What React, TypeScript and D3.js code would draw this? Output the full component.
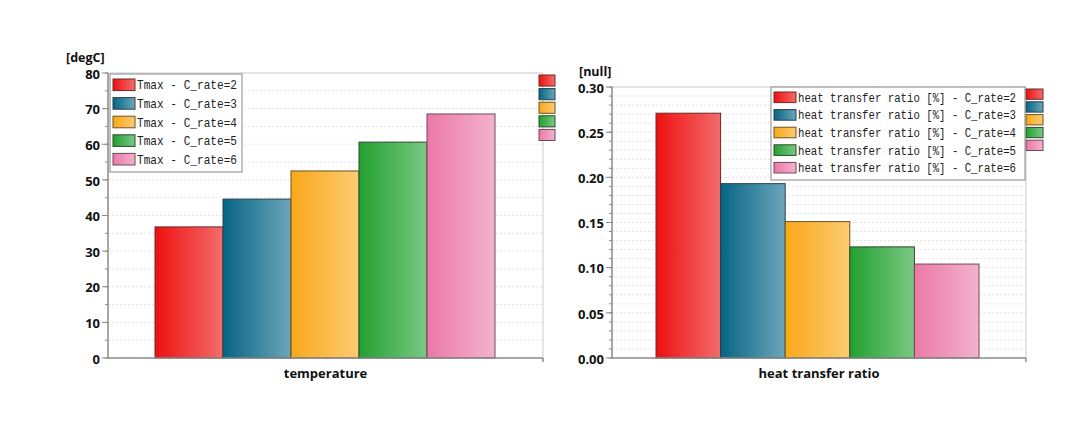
import React from 'react';
import * as d3 from 'd3';

const seriesCRate = ['2', '3', '4', '5', '6'];
const tempValues = [36.8, 44.6, 52.5, 60.6, 68.5];
const htrValues = [0.271, 0.193, 0.151, 0.123, 0.104];
const tempTicks = [0, 10, 20, 30, 40, 50, 60, 70, 80];
const htrTicks = [0, 0.05, 0.1, 0.15, 0.2, 0.25, 0.3];
const colorStart = ['#ee1010', '#066585', '#f9a81a', '#22a030', '#ec79a8'];
const colorEnd = ['#f46c6c', '#6ca6ba', '#fdcb72', '#7ac984', '#f3b2cc'];
const strokeCol = ['#6b2a2a', '#26404c', '#6b5422', '#2c4a2e', '#6b4a58'];

const tickFont = '"Open Sans", "DejaVu Sans", sans-serif';
const monoFont = '"Liberation Mono", "DejaVu Sans Mono", monospace';

type ChartProps = {
  id: string;
  left: number; right: number; top: number; bottom: number;
  barLeft: number; barRight: number;
  domainMax: number;
  ticks: number[];
  minorStep: number;
  fmt: (v: number) => string;
  values: number[];
  unit: string; unitX: number; unitY: number;
  xLabel: string;
  legendPrefix: string;
  legendX: number; legendY: number; legendW: number; legendRowH: number;
  legendFont: number; legendTextW: number;
  sqX: number; sqY: number; sqStep: number; sqW: number;
};

function BarChart(p: ChartProps) {
  const y = d3.scaleLinear().domain([0, p.domainMax]).range([p.bottom, p.top]);
  const x = d3.scaleBand<string>().domain(seriesCRate).range([p.barLeft, p.barRight]).padding(0);
  const minorTicks = d3.range(0, p.domainMax + p.minorStep / 2, p.minorStep);
  return (
    <g>
      <defs>
        {seriesCRate.map((c, i) => (
          <linearGradient key={c} id={`${p.id}-g${i}`} x1="0" x2="1" y1="0" y2="0">
            <stop offset="0" stopColor={colorStart[i]} />
            <stop offset="1" stopColor={colorEnd[i]} />
          </linearGradient>
        ))}
      </defs>
      {minorTicks.map((t, i) => (
        <line key={'g' + i} x1={p.left} x2={p.right} y1={y(t)} y2={y(t)}
          stroke="#e2e2e2" strokeWidth={1} strokeDasharray="2,2" />
      ))}
      <line x1={p.left} x2={p.right} y1={p.top} y2={p.top} stroke="#dcdcdc" strokeWidth={1.5} />
      <line x1={p.right} x2={p.right} y1={p.top} y2={p.bottom} stroke="#dcdcdc" strokeWidth={1.5} />
      {seriesCRate.map((c, i) => (
        <rect key={c} x={x(c)} y={y(p.values[i])} width={x.bandwidth()}
          height={p.bottom - y(p.values[i])} fill={`url(#${p.id}-g${i})`}
          stroke={strokeCol[i]} strokeWidth={1} />
      ))}
      <line x1={p.left} x2={p.left} y1={p.top} y2={p.bottom} stroke="#8a8a8a" strokeWidth={1.5} />
      {minorTicks.map((t, i) => (
        <line key={'m' + i} x1={p.left - 3} x2={p.left} y1={y(t)} y2={y(t)} stroke="#8a8a8a" />
      ))}
      {p.ticks.map((t, i) => (
        <g key={'t' + i}>
          <line x1={p.left - 6} x2={p.left} y1={y(t)} y2={y(t)} stroke="#8a8a8a" />
          <text x={p.left - 8} y={y(t) + 1} dy="0.36em" textAnchor="end" fontFamily={tickFont}
            fontWeight="bold" fontSize={13} fill="#111">{p.fmt(t)}</text>
        </g>
      ))}
      <line x1={p.left} x2={p.right} y1={p.bottom} y2={p.bottom} stroke="#8a8a8a" strokeWidth={1.5} />
      <line x1={p.right} x2={p.right} y1={p.bottom} y2={p.bottom + 4} stroke="#8a8a8a" strokeWidth={1.5} />
      <text x={(p.left + p.right) / 2} y={p.bottom + 20} textAnchor="middle" fontFamily={tickFont}
        fontWeight="bold" fontSize={13} fill="#111">{p.xLabel}</text>
      <text x={p.unitX} y={p.unitY} fontFamily={tickFont} fontWeight="bold" fontSize={12.5} fill="#111">{p.unit}</text>
      {seriesCRate.map((c, i) => (
        <rect key={'sq' + c} x={p.sqX} y={p.sqY + i * p.sqStep} width={p.sqW} height={p.sqStep - 2.5}
          fill={`url(#${p.id}-g${i})`} stroke={strokeCol[i]} strokeWidth={1} />
      ))}
      <rect x={p.legendX} y={p.legendY} width={p.legendW} height={p.legendRowH * 5 + 5}
        fill="#fff" stroke="#9a9a9a" strokeWidth={1.2} />
      {seriesCRate.map((c, i) => (
        <g key={'l' + c}>
          <rect x={p.legendX + 3} y={p.legendY + 5 + i * p.legendRowH} width={22} height={p.legendRowH - 7}
            fill={`url(#${p.id}-g${i})`} stroke={strokeCol[i]} strokeWidth={1} />
          <text x={p.legendX + 27} y={p.legendY + 5 + i * p.legendRowH + (p.legendRowH - 7) / 2}
            dy="0.36em" fontFamily={monoFont} fontSize={p.legendFont} fill="#222"
            textLength={p.legendTextW} lengthAdjust="spacingAndGlyphs">
            {`${p.legendPrefix} - C_rate=${c}`}
          </text>
        </g>
      ))}
    </g>
  );
}

export default function App() {
  return (
    <svg width={1080} height={422} style={{ position: 'absolute', left: 0, top: 0, background: '#fff' }}>
      <BarChart id="t" left={108} right={543} top={73} bottom={358}
        barLeft={155} barRight={495} domainMax={80} ticks={tempTicks} minorStep={5}
        fmt={(v) => String(v)} values={tempValues}
        unit="[degC]" unitX={66} unitY={62} xLabel="temperature"
        legendPrefix="Tmax" legendX={110} legendY={74} legendW={132} legendRowH={18.6}
        legendFont={13} legendTextW={100}
        sqX={539} sqY={75} sqStep={13.6} sqW={16} />
      <BarChart id="h" left={612} right={1026} top={87} bottom={358}
        barLeft={656} barRight={979} domainMax={0.3} ticks={htrTicks} minorStep={0.01}
        fmt={(v) => v.toFixed(2)} values={htrValues}
        unit="[null]" unitX={579} unitY={76} xLabel="heat transfer ratio"
        legendPrefix="heat transfer ratio [%]" legendX={771} legendY={87} legendW={254} legendRowH={17.6}
        legendFont={12.5} legendTextW={218}
        sqX={1026} sqY={89} sqStep={12.8} sqW={17} />
    </svg>
  );
}
